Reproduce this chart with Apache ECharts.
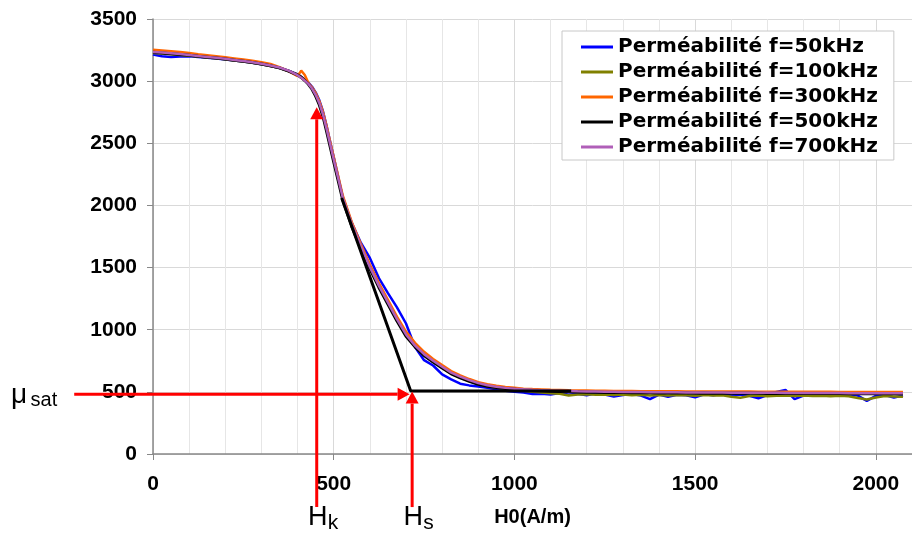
<!DOCTYPE html>
<html><head><meta charset="utf-8">
<script src="https://cdn.jsdelivr.net/npm/echarts@6/dist/echarts.min.js"></script>
<style>html,body{margin:0;padding:0;background:#fff}#c{width:912px;height:533px}</style>
</head><body><div id="c"></div>
<script>
// ---- data ----
const H0 = [0,25,50,75,100,125,150,175,200,225,250,275,300,325,350,375,400,
  410,420,430,440,450,460,470,480,490,500,
  525,550,575,600,625,650,675,700,725,750,775,800,825,850,875,900,925,950,975,1000,
  1025,1050,1075,1100,1125,1150,1175,1200,1225,1250,1275,1300,1325,1350,1375,1400,1425,1450,1475,1500,
  1525,1550,1575,1600,1625,1650,1675,1700,1725,1750,1775,1800,1825,1850,1875,1900,1925,1950,1975,2000,2025,2050,2075];

const mu50 = [3215,3200,3195,3198,3200,3195,3189,3182,3175,3167,3158,3147,3136,3122,3106,3084,3055,
  3036,3013,2988,2955,2910,2848,2760,2645,2515,2390,
  2065,1860,1700,1577,1415,1295,1180,1050,860,755,712,640,600,566,552,543,532,520,508,500,
  495,482,484,478,490,476,485,472,488,478,462,475,482,470,442,478,460,476,472,456,
  480,472,485,470,478,468,448,475,500,515,442,470,480,468,478,472,480,470,428,468,475,455,470];

const mu100 = [3226,3222,3217,3211,3205,3198,3191,3184,3176,3167,3158,3148,3136,3122,3106,3082,3052,
  3034,3010,2982,2943,2890,2825,2735,2620,2495,2370,
  2065,1852,1676,1508,1356,1220,1083,958,866,794,741,694,646,614,586,560,545,533,524,515,
  508,500,494,488,484,470,478,481,476,479,474,478,472,476,471,475,470,474,472,469,
  474,470,473,460,453,466,470,465,469,471,467,470,466,469,465,468,464,450,438,455,466,463,460];

const mu300 = [3252,3246,3240,3234,3226,3216,3208,3200,3192,3183,3174,3164,3152,3138,3112,3080,3040,
  3085,3050,2985,2950,2905,2840,2755,2640,2515,2390,
  2080,1865,1690,1525,1375,1240,1105,985,895,822,765,715,667,632,603,578,562,550,540,533,
  526,522,519,516,514,512,511,510,509,508,507,506,506,505,505,504,504,504,503,503,
  503,503,502,502,502,502,501,501,501,501,500,500,500,500,500,499,499,499,499,499,498,498,498];

const mu500 = [3232,3226,3220,3214,3208,3200,3193,3186,3178,3169,3160,3150,3138,3124,3107,3080,3050,
  3030,3005,2975,2935,2880,2810,2720,2600,2475,2350,
  2045,1830,1655,1490,1340,1205,1070,948,862,793,740,692,645,613,585,560,545,535,527,521,
  515,511,508,505,503,501,499,497,496,495,494,494,493,492,492,491,491,490,490,489,
  490,489,489,488,489,488,488,487,488,487,487,486,487,486,486,487,485,486,485,485,486,485,484];

const mu700 = [3235,3230,3224,3218,3210,3202,3195,3188,3180,3171,3162,3152,3140,3126,3110,3085,3048,
  3028,3004,2978,2940,2890,2825,2735,2620,2495,2370,
  2065,1850,1672,1505,1355,1220,1085,962,872,803,750,702,655,622,594,570,553,541,532,525,
  520,516,513,510,508,506,504,503,502,501,500,499,499,498,497,497,496,496,495,495,
  495,494,494,493,493,493,492,492,492,491,491,491,490,490,490,490,489,489,489,489,488,488,488];

const seriesNames = ['Perméabilité f=50kHz','Perméabilité f=100kHz','Perméabilité f=300kHz','Perméabilité f=500kHz','Perméabilité f=700kHz'];
const seriesValues = [mu50, mu100, mu300, mu500, mu700];

// tangent construction (H, mu)
const tangentH = [522, 713, 1157];
const tangentMu = [2060, 507, 507];

// annotation arrows: start (H, mu) -> end (H, mu)
const arrowStartH = [-218, 453, 717];
const arrowStartMu = [480, -427, -427];
const arrowEndH = [710, 453, 717];
const arrowEndMu = [480, 2790, 502];
const arrowMain = ['μ', 'H', 'H'];
const arrowSub = ['sat', 'k', 's'];

const xTicks = {min: 0, max: 2100, interval: 500};
const yTicks = {min: 0, max: 3500, interval: 500};

// ---- styles ----
const colors = ['#0000ff', '#808000', '#ff6600', '#000000', '#b05fb8'];
const widths = [2.5, 2.5, 2.5, 3, 2.5];
const RED = '#ff0000';

const chart = echarts.init(document.getElementById('c'), null, {renderer: 'canvas'});

const lineSeries = seriesNames.map((name, k) => ({
  name, type: 'line', showSymbol: false, symbol: 'none',
  data: H0.map((h, i) => [h, seriesValues[k][i]]),
  lineStyle: {color: colors[k], width: widths[k]},
  itemStyle: {color: colors[k]},
  z: 2 + k, animation: false
}));

const arrowData = arrowStartH.map((h, i) => [h, arrowStartMu[i], arrowEndH[i], arrowEndMu[i]]);

function renderArrow(params, api) {
  const i = params.dataIndex;
  const p0 = api.coord([api.value(0), api.value(1)]);
  const p1 = api.coord([api.value(2), api.value(3)]);
  const dx = p1[0] - p0[0], dy = p1[1] - p0[1];
  const len = Math.hypot(dx, dy), ux = dx / len, uy = dy / len;
  const hl = 12, hw = 6.5;
  const bx = p1[0] - ux * hl, by = p1[1] - uy * hl;
  const ch = [
    {type: 'line', shape: {x1: p0[0], y1: p0[1], x2: bx, y2: by}, style: {stroke: RED, lineWidth: 3}},
    {type: 'polygon', shape: {points: [[p1[0], p1[1]], [bx - uy * hw, by + ux * hw], [bx + uy * hw, by - ux * hw]]}, style: {fill: RED}}
  ];
  const font = 'Liberation Sans, Arial, sans-serif';
  if (Math.abs(dx) > Math.abs(dy)) {
    ch.push({type: 'text', x: p0[0] - 17, y: p0[1] + 6, style: {text: arrowSub[i], fontSize: 20, fontFamily: font, fill: '#000', align: 'right', verticalAlign: 'middle'}});
    ch.push({type: 'text', x: p0[0] - 47, y: p0[1] + 1, style: {text: arrowMain[i], fontSize: 28, fontFamily: font, fill: '#000', align: 'right', verticalAlign: 'middle'}});
  } else {
    ch.push({type: 'text', x: p0[0] + 1, y: p0[1] + 10, style: {text: arrowMain[i], fontSize: 27, fontFamily: font, fill: '#000', align: 'center', verticalAlign: 'middle'}});
    ch.push({type: 'text', x: p0[0] + 11, y: p0[1] + 16, style: {text: arrowSub[i], fontSize: 21, fontFamily: font, fill: '#000', align: 'left', verticalAlign: 'middle'}});
  }
  return {type: 'group', children: ch};
}

const axisFont = {fontSize: 21, fontWeight: 'bold', color: '#000', fontFamily: 'Liberation Sans, Arial, sans-serif',
  formatter: v => String(v)};

chart.setOption({
  backgroundColor: '#ffffff',
  animation: false,
  grid: {left: 153, top: 19, width: 771, height: 435, containLabel: false},
  legend: {
    data: seriesNames, orient: 'vertical', left: 562, top: 31,
    padding: [6, 16, 3, 19], itemGap: 5, itemWidth: 32, itemHeight: 3, icon: 'rect',
    backgroundColor: '#ffffff', borderColor: '#c8c8c8', borderWidth: 1,
    textStyle: {fontSize: 20, fontWeight: 'bold', color: '#000', fontFamily: 'DejaVu Sans', lineHeight: 20}
  },
  xAxis: {
    type: 'value', min: xTicks.min, max: xTicks.max, interval: xTicks.interval,
    name: 'H0(A/m)', nameLocation: 'middle', nameGap: 53,
    nameTextStyle: {fontSize: 20, fontWeight: 'bold', color: '#000', fontFamily: 'Liberation Sans, Arial, sans-serif'},
    axisLine: {show: true, lineStyle: {color: '#888', width: 1.5}},
    axisTick: {show: true, length: 6, lineStyle: {color: '#888'}},
    axisLabel: Object.assign({margin: 20, showMaxLabel: false}, axisFont),
    splitLine: {show: true, lineStyle: {color: '#d9d9d9', width: 1}},
    minorTick: {show: false, splitNumber: 5},
    minorSplitLine: {show: true, lineStyle: {color: '#e6e6e6', width: 1}}
  },
  yAxis: {
    type: 'value', min: yTicks.min, max: yTicks.max, interval: yTicks.interval,
    axisLine: {show: true, lineStyle: {color: '#888', width: 1.5}},
    axisTick: {show: true, length: 6, lineStyle: {color: '#888'}},
    axisLabel: Object.assign({margin: 16}, axisFont),
    splitLine: {show: true, lineStyle: {color: '#d9d9d9', width: 1}}
  },
  series: lineSeries.concat([
    {name: 'tangent', type: 'line', showSymbol: false, symbol: 'none',
     data: tangentH.map((h, i) => [h, tangentMu[i]]),
     lineStyle: {color: '#000', width: 3}, z: 10, silent: true},
    {name: 'annotations', type: 'custom', renderItem: renderArrow, data: arrowData,
     clip: false, z: 20, silent: true, encode: {x: 0, y: 1}}
  ])
});
</script></body></html>
